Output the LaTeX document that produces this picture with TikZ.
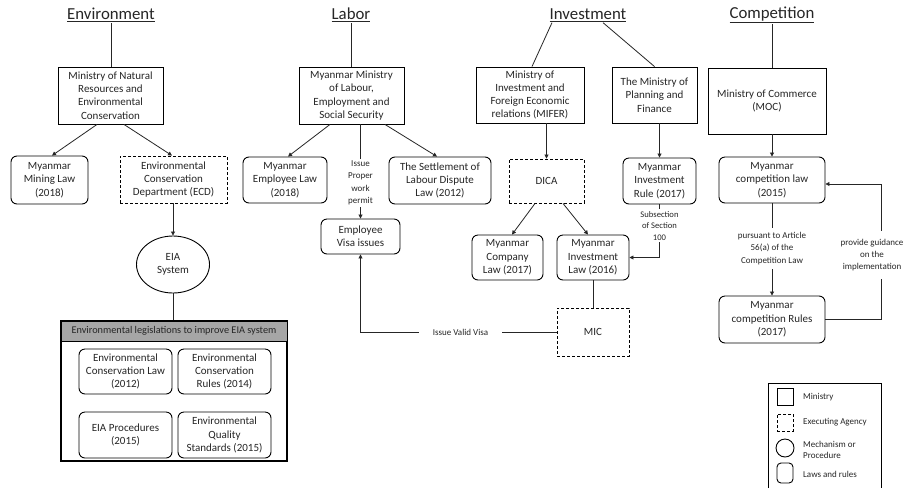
\documentclass[tikz,border=0pt]{standalone}
\usepackage{fontspec}
\setmainfont{Carlito}
\usetikzlibrary{arrows.meta,shapes.geometric,calc}
\definecolor{txt}{HTML}{262626}
\definecolor{hdrgray}{HTML}{A6A6A6}
\tikzset{
  base/.style={align=center, inner sep=0pt, font=\fontsize{11}{13.3}\selectfont, text=txt},
  ministry/.style={base, draw, line width=0.9pt},
  agency/.style={base, draw, line width=0.9pt, dash pattern=on 3pt off 2pt},
  lawbox/.style={base, draw, line width=0.9pt, rounded corners=6pt},
  mech/.style={base, draw, line width=0.9pt, ellipse},
  title/.style={inner sep=1pt, font=\fontsize{16.8}{19}\selectfont, text=txt},
  lbl/.style={fill=white, align=center, inner sep=2pt, font=\fontsize{9}{12.3}\selectfont, text=txt},
  slbl/.style={fill=white, align=center, inner sep=2pt, font=\fontsize{8.6}{11.5}\selectfont, text=txt},
  conn/.style={line width=0.8pt, draw=black!85},
  arr/.style={conn, -{Triangle[length=4pt,width=4pt]}},
  sz/.style 2 args={minimum width=#1pt, minimum height=#2pt}
}
\begin{document}
\begin{tikzpicture}[x=1pt,y=-1pt]
\useasboundingbox (0,0) rectangle (909,488);
\fill[white] (0,0) rectangle (909,488);

% ---------- titles
\node[title] (envT) at (111,15) {\underline{Environment}};
\node[title] (labT) at (351,15) {\underline{Labor}};
\node[title] (invT) at (588,15) {\underline{Investment}};
\node[title] (comT) at (772,15) {\underline{Competition}};

% ---------- Environment
\node[ministry, sz={105}{57}] (envM) at (110.5,95.5) {Ministry of Natural\\Resources and\\Environmental\\Conservation};
\node[lawbox, sz={77}{48}] (mining) at (49.5,180) {Myanmar\\Mining Law\\(2018)};
\node[agency, sz={107}{47}] (ecd) at (173.5,179.5) {Environmental\\Conservation\\Department (ECD)};
\node[mech, sz={73}{57}] (eia) at (173,264.5) {EIA\\System};
\node[draw, line width=1.6pt, sz={226}{140}, inner sep=0pt] (big) at (174,391) {};
\node[draw, line width=0.9pt, fill=hdrgray, sz={226}{20}, inner sep=0pt, font=\fontsize{10.3}{12}\selectfont, text=txt] (hdr) at (174,331) {Environmental legislations to improve EIA system};
\node[lawbox, sz={93}{45}] (ecl) at (125.5,371.5) {Environmental\\Conservation Law\\(2012)};
\node[lawbox, sz={93}{45}] (ecr) at (224.5,371.5) {Environmental\\Conservation\\Rules (2014)};
\node[lawbox, sz={93}{46}] (eiap) at (125.5,435) {EIA Procedures\\(2015)};
\node[lawbox, sz={93}{46}] (eqs) at (224.5,435) {Environmental\\Quality\\Standards (2015)};

\draw[conn] (envT.south) -- (envT.south |- envM.north);
\draw[arr] ([xshift=-13.5pt]envM.south) -- ([xshift=2.5pt]mining.north);
\draw[arr] ([xshift=13.5pt]envM.south) -- ([xshift=-1.5pt]ecd.north);
\draw[arr] (eia.north |- ecd.south) -- (eia.north);
\draw[conn] (eia.south) -- (eia.south |- big.north);

% ---------- Labor
\node[ministry, sz={105}{57}] (labM) at (351.5,95.5) {Myanmar Ministry\\of Labour,\\Employment and\\Social Security};
\node[lawbox, sz={84}{46}] (empLaw) at (285,180) {Myanmar\\Employee Law\\(2018)};
\node[lawbox, sz={102}{47}] (settle) at (440,180.5) {The Settlement of\\Labour Dispute\\Law (2012)};
\node[lawbox, sz={79}{35}] (visa) at (360.5,236.5) {Employee\\Visa issues};

\draw[conn] (labT.south) -- (labT.south |- labM.north);
\draw[arr] ([xshift=-21.5pt]labM.south) -- ([xshift=3pt]empLaw.north);
\draw[arr] ([xshift=33.5pt]labM.south) -- ([xshift=-3pt]settle.north);
\draw[arr] (visa.north |- labM.south) -- node[lbl, pos=0.62, inner xsep=1pt]{Issue\\Proper\\work\\permit} (visa.north);

% ---------- Investment
\node[ministry, sz={108}{56}] (mifer) at (530,95) {Ministry of\\Investment and\\Foreign Economic\\relations (MIFER)};
\node[ministry, sz={85}{56}] (plan) at (654.5,95) {The Ministry of\\Planning and\\Finance};
\node[agency, sz={75}{44}] (dica) at (546.5,181) {DICA};
\node[lawbox, sz={73}{46}] (mir) at (659.5,181) {Myanmar\\Investment\\Rule (2017)};
\node[lawbox, sz={71}{45}] (comp) at (507.5,257.5) {Myanmar\\Company\\Law (2017)};
\node[lawbox, sz={72}{45}] (mil) at (593,257.5) {Myanmar\\Investment\\Law (2016)};
\node[agency, sz={72}{48}] (mic) at (593,332) {MIC};

\draw[conn] ([xshift=-36pt]invT.south) -- ([xshift=2pt]mifer.north);
\draw[conn] ([xshift=15pt]invT.south) -- (plan.north);
\draw[arr] (dica.north |- mifer.south) -- (dica.north);
\draw[arr] (mir.north |- plan.south) -- (mir.north);
\draw[arr] ([xshift=-11.5pt]dica.south) -- ([xshift=4.5pt]comp.north);
\draw[arr] ([xshift=16.5pt]dica.south) -- ([xshift=-5pt]mil.north);
\draw[arr] (mir.south) -- node[slbl, pos=0.4, inner xsep=0.5pt]{Subsection\\of Section\\100} (mir.south |- mil.east) -- (mil.east);
\draw[conn] (mil.south) -- (mic.north);
\draw[arr] (mic.west) -- node[lbl, pos=0.49, inner xsep=14pt]{Issue Valid Visa} (visa.south |- mic.west) -- (visa.south);

% ---------- Competition
\node[ministry, sz={118}{66}] (moc) at (767,101) {Ministry of Commerce\\(MOC)};
\node[lawbox, sz={106}{46}] (mcl) at (772,180) {Myanmar\\competition law\\(2015)};
\node[lawbox, sz={106}{47}] (mcr) at (772,319.5) {Myanmar\\competition Rules\\(2017)};
\coordinate (fb) at (881,0);

\draw[conn] (comT.south) -- (comT.south |- moc.north);
\draw[arr] (mcl.north |- moc.south) -- (mcl.north);
\draw[arr] (mcl.south) -- node[lbl, pos=0.49, inner xsep=1pt, inner ysep=4pt]{pursuant to Article\\56(a) of the\\Competition Law} (mcr.north);
\draw[arr] (mcr.east) -- (mcr.east -| fb) -- ([yshift=-4pt]mcl.east -| fb) -- ([yshift=-4pt]mcl.east);
\node[lbl, inner xsep=1pt, inner ysep=8pt] (guide) at (872,255) {provide guidance\\on the\\implementation};

% ---------- Legend
\coordinate (lgA) at (768,383);
\coordinate (lgB) at (881,488);
\draw[line width=0.9pt] (lgA |- lgB) -- (lgA) -- (lgB |- lgA) -- (lgB);
\node[ministry, sz={16}{17}] (lg1) at (785,396.5) {};
\node[agency, sz={16}{17}] (lg2) at (785,422.5) {};
\node[draw, line width=0.9pt, circle, minimum size=18pt, inner sep=0pt] (lg3) at (785,448) {};
\node[lawbox, rounded corners=4pt, sz={16}{20}] (lg4) at (785,473) {};
\node[lbl, anchor=west, align=left] (lt1) at (801,397) {Ministry};
\node[lbl, anchor=west, align=left] (lt2) at (801,422) {Executing Agency};
\node[lbl, anchor=west, align=left, font=\fontsize{9}{11}\selectfont] (lt3) at (801,449.5) {Mechanism or\\Procedure};
\node[lbl, anchor=west, align=left] (lt4) at (801,474) {Laws and rules};
\end{tikzpicture}
\end{document}
